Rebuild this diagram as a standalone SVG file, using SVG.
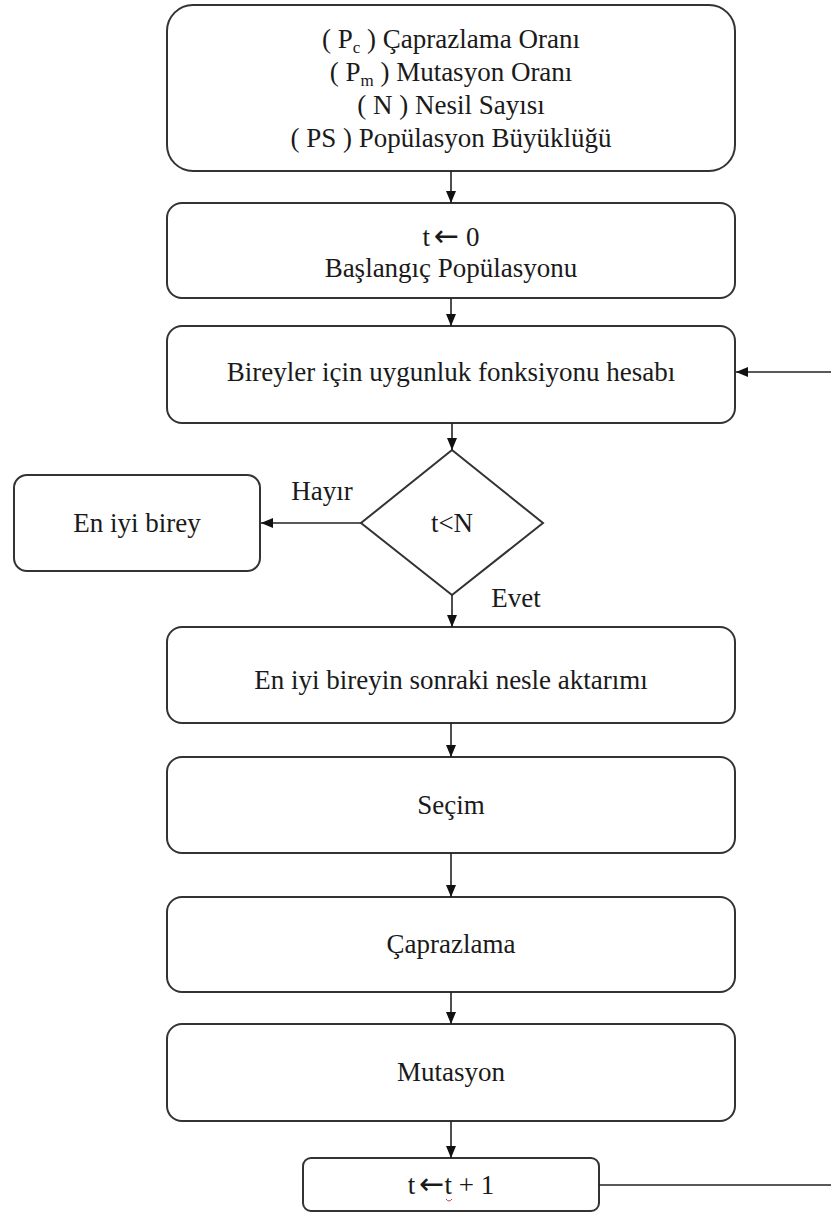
<svg xmlns="http://www.w3.org/2000/svg" width="831" height="1213" viewBox="0 0 831 1213">
  <defs>
    <marker id="ah" viewBox="0 0 12 10" markerWidth="12" markerHeight="10" refX="12" refY="5" markerUnits="userSpaceOnUse" orient="auto">
      <path d="M0,0 L12,5 L0,10 z" fill="#111"/>
    </marker>
    <style>
      .box { fill: #fff; stroke: #333; stroke-width: 2; }
      .lbl { font-family: 'Liberation Serif', 'DejaVu Serif', 'Times New Roman', serif; font-size: 27px; fill: #1a1a1a; text-anchor: middle; }
      .sym { font-family: 'DejaVu Sans', sans-serif; font-size: 30px; }
      .conn { stroke: #222; stroke-width: 1.6; fill: none; }
      .arr { marker-end: url(#ah); }
    </style>
  </defs>
  <rect width="831" height="1213" fill="#fff"/>

  <g id="params">
    <rect class="box" x="167" y="5" width="568" height="166" rx="26"/>
    <text class="lbl" x="451" y="48">( P<tspan font-size="17" dy="5">c</tspan><tspan dy="-5"> ) Çaprazlama Oranı</tspan></text>
    <text class="lbl" x="451" y="81">( P<tspan font-size="17" dy="5">m</tspan><tspan dy="-5"> ) Mutasyon Oranı</tspan></text>
    <text class="lbl" x="451" y="114">( N ) Nesil Sayısı</text>
    <text class="lbl" x="451" y="147">( PS ) Popülasyon Büyüklüğü</text>
  </g>

  <g id="init">
    <rect class="box" x="167" y="203" width="568" height="95" rx="15"/>
    <text class="lbl" x="451" y="246">t<tspan class="sym" dx="4">←</tspan> 0</text>
    <text class="lbl" x="451" y="277">Başlangıç Popülasyonu</text>
  </g>

  <g id="fitness">
    <rect class="box" x="167" y="326" width="568" height="97" rx="15"/>
    <text class="lbl" x="451" y="381">Bireyler için uygunluk fonksiyonu hesabı</text>
  </g>

  <g id="decision">
    <polygon class="box" points="452,450 543,523 452,595 361,523"/>
    <text class="lbl" x="452" y="532">t&lt;N</text>
  </g>

  <g id="best">
    <rect class="box" x="14" y="475" width="246" height="96" rx="13"/>
    <text class="lbl" x="137" y="532">En iyi birey</text>
  </g>

  <g id="elitism">
    <rect class="box" x="167" y="627" width="568" height="96" rx="15"/>
    <text class="lbl" x="451" y="689">En iyi bireyin sonraki nesle aktarımı</text>
  </g>

  <g id="selection">
    <rect class="box" x="167" y="757" width="568" height="96" rx="15"/>
    <text class="lbl" x="451" y="814">Seçim</text>
  </g>

  <g id="crossover">
    <rect class="box" x="167" y="897" width="568" height="95" rx="15"/>
    <text class="lbl" x="451" y="953">Çaprazlama</text>
  </g>

  <g id="mutation">
    <rect class="box" x="167" y="1024" width="568" height="97" rx="15"/>
    <text class="lbl" x="451" y="1081">Mutasyon</text>
  </g>

  <g id="increment">
    <rect class="box" x="303" y="1158" width="296" height="53" rx="8"/>
    <text class="lbl" x="451" y="1194">t<tspan class="sym" dx="4">←</tspan>t + 1</text>
    <path d="M446,1199 q3,4 6,0" stroke="#d33" stroke-width="1" fill="none"/>
  </g>

  <g id="connectors">
    <line class="conn arr" x1="451" y1="171" x2="451" y2="203"/>
    <line class="conn arr" x1="451" y1="298" x2="451" y2="326"/>
    <line class="conn arr" x1="831" y1="372" x2="736" y2="372"/>
    <line class="conn arr" x1="452" y1="423" x2="452" y2="450"/>
    <line class="conn arr" x1="361" y1="523" x2="261" y2="523"/>
    <line class="conn arr" x1="452" y1="595" x2="452" y2="627"/>
    <line class="conn arr" x1="451" y1="723" x2="451" y2="757"/>
    <line class="conn arr" x1="451" y1="853" x2="451" y2="897"/>
    <line class="conn arr" x1="451" y1="992" x2="451" y2="1024"/>
    <line class="conn arr" x1="451" y1="1121" x2="451" y2="1158"/>
    <line class="conn" x1="599" y1="1185" x2="831" y2="1185"/>
    <text class="lbl" x="322" y="500">Hayır</text>
    <text class="lbl" x="516" y="607">Evet</text>
  </g>
</svg>
